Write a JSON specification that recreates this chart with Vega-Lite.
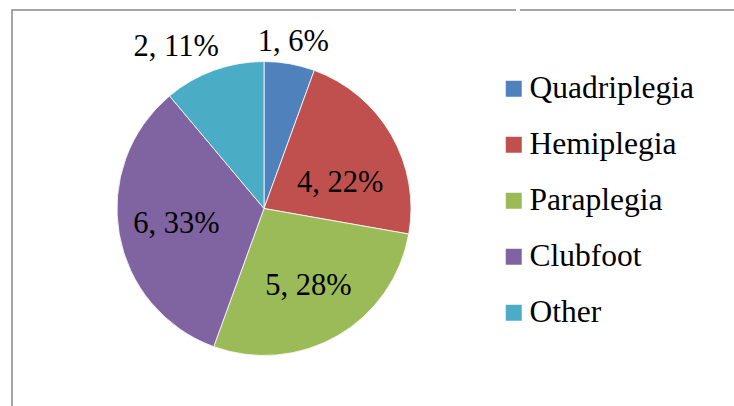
{
  "$schema": "https://vega.github.io/schema/vega-lite/v6.json",
  "padding": {"left": 11, "top": 9, "right": 0, "bottom": 0},
  "background": "white",
  "data": {"values": [
    {"name": "Quadriplegia", "v": 1, "k": 1, "label": "1, 6%"},
    {"name": "Hemiplegia", "v": 4, "k": 2, "label": "4, 22%"},
    {"name": "Paraplegia", "v": 5, "k": 3, "label": "5, 28%"},
    {"name": "Clubfoot", "v": 6, "k": 4, "label": "6, 33%"},
    {"name": "Other", "v": 2, "k": 5, "label": "2, 11%"}
  ]},
  "spacing": 0,
  "config": {"font": "Liberation Serif", "view": {"stroke": null}},
  "hconcat": [
    {
      "width": 504,
      "height": 397,
      "view": {"stroke": "#888888", "strokeWidth": 1.5, "strokeDash": [901, 901], "strokeDashOffset": 397},
      "encoding": {
        "theta": {"field": "v", "type": "quantitative", "stack": true},
        "order": {"field": "k", "type": "quantitative"}
      },
      "layer": [
        {
          "mark": {"type": "arc", "outerRadius": 147, "stroke": "#ffffff", "strokeWidth": 0.8},
          "encoding": {
            "color": {
              "field": "name",
              "type": "nominal",
              "sort": ["Quadriplegia", "Hemiplegia", "Paraplegia", "Clubfoot", "Other"],
              "scale": {
                "domain": ["Quadriplegia", "Hemiplegia", "Paraplegia", "Clubfoot", "Other"],
                "range": ["#4F81BD", "#C0504D", "#9BBB59", "#8064A2", "#4BACC6"]
              },
              "legend": {
                "orient": "none",
                "legendX": 486,
                "legendY": 63,
                "title": null,
                "padding": 0,
                "symbolType": "square",
                "symbolSize": 256,
                "symbolStrokeWidth": 0,
                "labelFont": "Liberation Serif",
                "labelFontSize": 31.5,
                "labelColor": "#000000",
                "labelOffset": 0,
                "rowPadding": 23,
                "labelLimit": 300
              }
            }
          }
        },
        {
          "mark": {"type": "text", "radius": 89, "font": "Liberation Serif", "fontSize": 30.5, "color": "#000000", "align": "center", "baseline": "middle"},
          "encoding": {
            "detail": {"field": "name"},
            "text": {"condition": {"test": "datum.name == 'Paraplegia' || datum.name == 'Clubfoot'", "field": "label"}, "value": ""}
          }
        },
        {
          "mark": {"type": "text", "radius": 88, "dy": 18, "font": "Liberation Serif", "fontSize": 30.5, "color": "#000000", "align": "center", "baseline": "middle"},
          "encoding": {
            "detail": {"field": "name"},
            "text": {"condition": {"test": "datum.name == 'Hemiplegia'", "field": "label"}, "value": ""}
          }
        },
        {
          "mark": {"type": "text", "radius": 169, "font": "Liberation Serif", "fontSize": 30.5, "color": "#000000", "align": "center", "baseline": "middle"},
          "encoding": {
            "detail": {"field": "name"},
            "text": {"condition": {"test": "datum.name == 'Quadriplegia'", "field": "label"}, "value": ""}
          }
        },
        {
          "mark": {"type": "text", "radius": 172, "dx": -29, "font": "Liberation Serif", "fontSize": 30.5, "color": "#000000", "align": "center", "baseline": "middle"},
          "encoding": {
            "detail": {"field": "name"},
            "text": {"condition": {"test": "datum.name == 'Other'", "field": "label"}, "value": ""}
          }
        }
      ]
    },
    {
      "width": 219,
      "height": 397,
      "view": {"stroke": "#888888", "strokeWidth": 1.5, "strokeDash": [0, 2, 217, 1013]},
      "mark": {"type": "text"},
      "encoding": {"text": {"value": ""}}
    }
  ]
}
